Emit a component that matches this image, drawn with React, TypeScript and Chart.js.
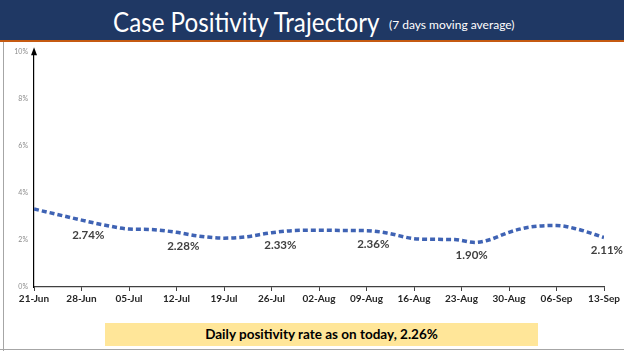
import React, { useEffect, useRef } from "react";
import { Chart, registerables } from "chart.js";

Chart.register(...registerables);

const weekLabels = ["21-Jun", "28-Jun", "05-Jul", "12-Jul", "19-Jul", "26-Jul", "02-Aug", "09-Aug", "16-Aug", "23-Aug", "30-Aug", "06-Sep", "13-Sep"];
const dayOffsets = [0, 3, 7, 10, 14, 17, 21, 24, 28, 31, 35, 38, 42, 45, 49, 52, 56, 59, 62, 65, 67, 70, 73, 77, 80, 84];
const positivity = [3.32, 3.12, 2.85, 2.66, 2.47, 2.45, 2.33, 2.18, 2.08, 2.13, 2.31, 2.4, 2.42, 2.41, 2.4, 2.3, 2.06, 2.03, 2.02, 1.9, 2.0, 2.33, 2.55, 2.62, 2.47, 2.11];
const labelDays = [8, 22, 36.3, 50, 64.5, 85.3];
const labelValues = [2.74, 2.28, 2.33, 2.36, 1.9, 2.11];
const yTicks = [0, 2, 4, 6, 8, 10];

const FONT = "Lato, 'Open Sans', sans-serif";

export default function App() {
  const ref = useRef<HTMLCanvasElement | null>(null);

  useEffect(() => {
    if (!ref.current) return;
    const annot = {
      id: "annot",
      afterDraw(chart: any) {
        const { ctx, scales } = chart;
        const xs = scales.x;
        const ys = scales.y;
        ctx.save();
        const ax = xs.left;
        const ay = ys.top - 1;
        ctx.fillStyle = "#000";
        ctx.beginPath();
        ctx.moveTo(ax, ay - 4);
        ctx.lineTo(ax - 3, ay + 4);
        ctx.lineTo(ax + 3, ay + 4);
        ctx.closePath();
        ctx.fill();
        ctx.font = `bold 11.5px ${FONT}`;
        ctx.fillStyle = "#404040";
        ctx.textAlign = "center";
        ctx.textBaseline = "middle";
        labelDays.forEach((d, i) => {
          let x = xs.getPixelForValue(d);
          const y = ys.getPixelForValue(labelValues[i]) + 13;
          const t = labelValues[i].toFixed(2) + "%";
          const w = ctx.measureText(t).width;
          if (x + w / 2 > chart.width - 1) x = chart.width - 1 - w / 2;
          ctx.fillText(t, x, y);
        });
        ctx.restore();
      },
    };
    const chart = new Chart(ref.current, {
      type: "line",
      data: {
        datasets: [
          {
            data: dayOffsets.map((d, i) => ({ x: d, y: positivity[i] })),
            borderColor: "#3f63b4",
            borderWidth: 3.5,
            borderDash: [5, 3],
            pointRadius: 0,
            tension: 0.4,
            cubicInterpolationMode: "monotone",
            fill: false,
          },
        ],
      },
      options: {
        responsive: false,
        animation: false,
        layout: { padding: { top: 10, right: 20, left: 0, bottom: 0 } },
        plugins: { legend: { display: false }, tooltip: { enabled: false } },
        scales: {
          x: {
            type: "linear",
            min: 0,
            max: 84,
            afterBuildTicks: (s: any) => {
              s.ticks = weekLabels.map((_, i) => ({ value: i * 7 }));
            },
            afterFit: (s: any) => {
              s.height = 25;
            },
            ticks: {
              autoSkip: false,
              maxRotation: 0,
              padding: 2,
              color: "#262626",
              font: { family: FONT, size: 10, weight: "bold" },
              callback: (v: any) => weekLabels[Math.round(Number(v) / 7)] ?? "",
            },
            grid: { display: true, drawOnChartArea: false, drawTicks: true, tickLength: 4, color: "#404040", lineWidth: 1 },
            border: { display: true, color: "#404040", width: 1.2 },
          },
          y: {
            min: 0,
            max: 10,
            afterBuildTicks: (s: any) => {
              s.ticks = yTicks.map((v) => ({ value: v }));
            },
            afterFit: (s: any) => {
              s.width = 34;
            },
            ticks: {
              padding: 6,
              color: "#8c8c8c",
              font: { family: FONT, size: 7 },
              callback: (v: any) => v + "%",
            },
            grid: { display: false, drawTicks: false },
            border: { display: true, color: "#000", width: 1.2 },
          },
        },
      },
      plugins: [annot],
    } as any);
    return () => chart.destroy();
  }, []);

  return (
    <div style={{ position: "fixed", left: 0, top: 0, width: 624, height: 351, background: "#fff", overflow: "hidden", fontFamily: FONT }}>
      <div style={{ position: "absolute", left: 0, top: 0, width: 624, height: 40, background: "#1f3864" }} />
      <div style={{ position: "absolute", left: 0, top: 40, width: 624, height: 2, background: "#c55a11" }} />
      <div style={{ position: "absolute", left: 113, top: 5, height: 34, whiteSpace: "nowrap", color: "#fff", fontSize: 26, lineHeight: "34px", transformOrigin: "0 0", transform: "scaleX(0.93)" }}>
        Case Positivity Trajectory
      </div>
      <div style={{ position: "absolute", left: 389, top: 16, whiteSpace: "nowrap", color: "#fff", fontSize: 12, lineHeight: "18px" }}>
        (7 days moving average)
      </div>
      <div style={{ position: "absolute", left: 3, top: 42, width: 1, height: 309, background: "#a6a6a6" }} />
      <canvas ref={ref} width={624} height={270} style={{ position: "absolute", left: 0, top: 42, width: 624, height: 270 }} />
      <div style={{ position: "absolute", left: 105, top: 323, width: 433, height: 23, background: "#ffe699", color: "#000", fontWeight: "bold", fontSize: 13.5, lineHeight: "23px", textAlign: "center" }}>
        Daily positivity rate as on today, 2.26%
      </div>
      <div style={{ position: "absolute", left: 0, top: 349, width: 624, height: 1, background: "#a6a6a6" }} />
    </div>
  );
}
